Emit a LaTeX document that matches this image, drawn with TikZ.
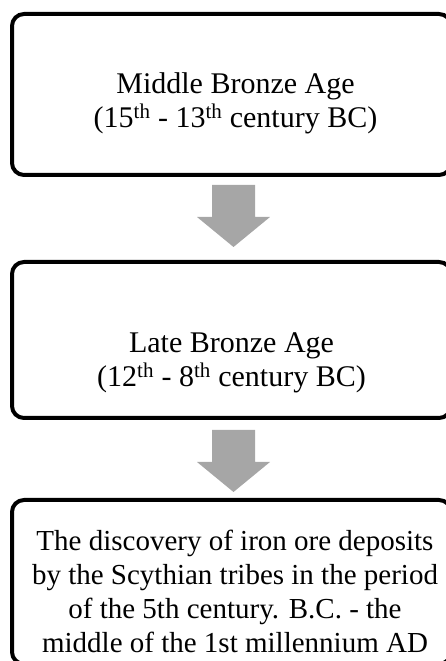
\documentclass[tikz,border=0pt]{standalone}
\usepackage{fontspec}
\setmainfont{Liberation Serif}
\definecolor{arrowgray}{HTML}{A6A6A6}
\begin{document}
\begin{tikzpicture}[x=1pt,y=1pt,
  stagebox/.style={draw=black, line width=4pt, rounded corners=12pt, fill=white,
    minimum width=439pt, inner sep=0pt, outer sep=0pt, anchor=north west},
  stagetext/.style={align=center, inner sep=0pt, font=\fontsize{30}{34}\selectfont},
  arrowshape/.style={fill=arrowgray, draw=none}
]
\useasboundingbox (0,0) rectangle (446,661);
\clip (0,0) rectangle (446,661);
% boxes
\node[stagebox, minimum height=161pt] (box1) at (12,647) {};
\node[stagebox, minimum height=156pt] (box2) at (12,399) {};
\node[stagebox, minimum height=164pt] (box3) at (12,161) {};
% texts
\node[stagetext] (t1) at ([xshift=4pt,yshift=-9pt]box1.center) {Middle Bronze Age\\(15\textsuperscript{th} - 13\textsuperscript{th} century BC)};
\node[stagetext] (t2) at ([yshift=-23pt]box2.center) {Late Bronze Age\\(12\textsuperscript{th} - 8\textsuperscript{th} century BC)};
\node[stagetext, font=\fontsize{29}{34}\selectfont] (t3) at ([xshift=3.5pt,yshift=-9pt]box3.center) {The discovery of iron ore deposits\\by the Scythian tribes in the period\\of the 5th century. B.C. - the\\middle of the 1st millennium AD};
% arrows
\fill[arrowshape] (box1.south) ++(-19.5,-10) -- ++(0,-32) -- ++(-15,0) -- ++(36.5,-30) -- ++(36.5,30) -- ++(-15,0) -- ++(0,32) -- cycle;
\fill[arrowshape] (box2.south) ++(-19.5,-12) -- ++(0,-32) -- ++(-15,0) -- ++(36.5,-30) -- ++(36.5,30) -- ++(-15,0) -- ++(0,32) -- cycle;
\end{tikzpicture}
\end{document}
